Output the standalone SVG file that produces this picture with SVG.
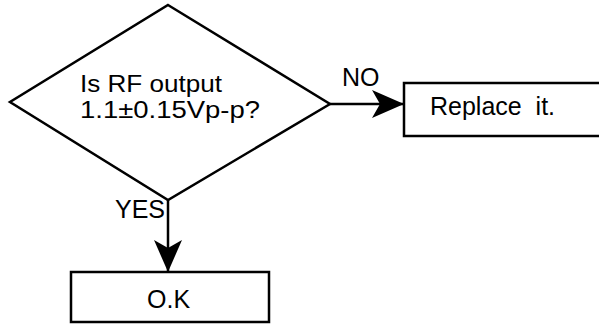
<svg xmlns="http://www.w3.org/2000/svg" width="599" height="324" viewBox="0 0 599 324">
<style>
.s{fill:#fff;stroke:#000;stroke-width:2.5}
.t{font-family:"Liberation Sans",Arial,sans-serif;font-size:25px;fill:#000}
.q{font-family:"Liberation Sans",Arial,sans-serif;font-size:23px;fill:#000}
.c{stroke:#000;stroke-width:2.5;fill:none}
</style>
<defs>
<marker id="ah" markerUnits="userSpaceOnUse" markerWidth="34" markerHeight="30" refX="32" refY="14" orient="auto">
<path d="M0,0 L32,14 L0,28 L8,14 Z" fill="#000"/>
</marker>
</defs>
<rect width="599" height="324" fill="#fff"/>
<g id="decision">
<polygon class="s" points="168,5 330,104 168,200 10,102"/>
<text class="q" x="80" y="92" textLength="142" lengthAdjust="spacingAndGlyphs">Is RF output</text>
<text class="q" x="80" y="118" textLength="180" lengthAdjust="spacingAndGlyphs">1.1±0.15Vp-p?</text>
</g>
<g id="replace">
<rect class="s" x="404" y="83" width="200" height="53"/>
<text class="t" x="430" y="115" xml:space="preserve">Replace  it.</text>
</g>
<g id="ok">
<rect class="s" x="71" y="272" width="198" height="50"/>
<text class="t" x="147" y="308">O.K</text>
</g>
<g id="connectors">
<line class="c" x1="330" y1="104" x2="404" y2="104" marker-end="url(#ah)"/>
<text class="t" x="342" y="86">NO</text>
<line class="c" x1="168" y1="200" x2="168" y2="272" marker-end="url(#ah)"/>
<text class="t" x="115" y="218">YES</text>
</g>
</svg>
